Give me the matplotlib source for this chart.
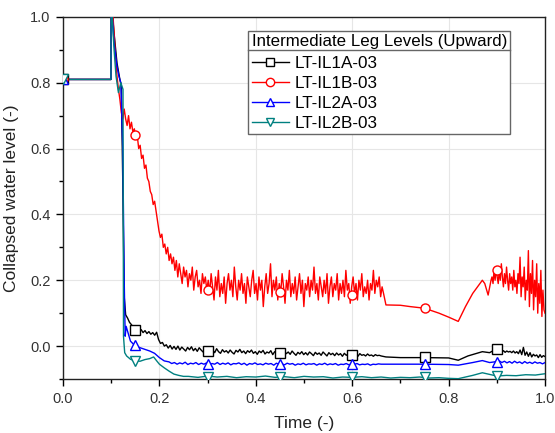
import numpy as np
import matplotlib
matplotlib.use("Agg")
import matplotlib.pyplot as plt
from matplotlib.lines import Line2D
from matplotlib.ticker import MultipleLocator, FormatStrFormatter

plt.rcParams['font.family'] = ['Liberation Sans', 'DejaVu Sans']

# ---------------- data ----------------
series_names = ["LT-IL1A-03", "LT-IL1B-03", "LT-IL2A-03", "LT-IL2B-03"]
legend_title = "Intermediate Leg Levels (Upward)"

t_init = [0.0, 0.05, 0.0995]
v_init = [0.81, 0.81, 0.81]

# --- black: LT-IL1A-03
black_drop_t = [0.1, 0.106, 0.112, 0.118, 0.121, 0.124, 0.127]
black_drop_v = [1.05, 0.95, 0.86, 0.81, 0.79, 0.50, 0.15]
black_noise_span = (0.13, 0.66)
black_noise_v = [0.095, 0.085, 0.072, 0.065, 0.056, 0.050,
                 0.053, 0.044, 0.050, 0.041, 0.047, 0.038, 0.044, 0.036, 0.041, 0.033, 0.042,
                 0.020, 0.008, 0.011, 0.000,
                 0.004, -0.006, 0.002, -0.009, -0.001, -0.010, 0.000, -0.012, -0.003, -0.009,
                 -0.015, -0.004, -0.011, -0.002, -0.014, -0.007, -0.016, -0.005, -0.012, -0.018,
                 -0.008, -0.013,
                 -0.010, -0.019, -0.012, -0.020, -0.008, -0.017, -0.022, -0.011, -0.018, -0.014,
                 -0.021, -0.012, -0.019, -0.024, -0.013, -0.018, -0.010, -0.020, -0.015, -0.023,
                 -0.014, -0.019, -0.012, -0.022, -0.017, -0.025, -0.015, -0.020, -0.013, -0.024,
                 -0.018, -0.021, -0.014, -0.026, -0.017, -0.022, -0.015, -0.020, -0.027, -0.016,
                 -0.023, -0.018, -0.025, -0.015, -0.022, -0.028, -0.019, -0.024, -0.017, -0.026,
                 -0.020, -0.027, -0.018, -0.023, -0.029, -0.019, -0.025, -0.021, -0.028, -0.018,
                 -0.024, -0.030, -0.020, -0.026, -0.022, -0.029, -0.021, -0.027, -0.023, -0.031,
                 -0.022, -0.028, -0.024, -0.030, -0.021, -0.027, -0.025, -0.031, -0.023, -0.028,
                 -0.026, -0.030, -0.024, -0.029, -0.027, -0.031, -0.026, -0.029, -0.028, -0.030]
black_late_t = [0.67, 0.70, 0.75, 0.80, 0.82, 0.84, 0.87, 0.885, 0.895]
black_late_v = [-0.033, -0.035, -0.035, -0.036, -0.043, -0.030, -0.017, -0.020, -0.012]
black_end_span = (0.90, 1.0)
black_end_v = [-0.012, -0.017, -0.013, -0.018, -0.014, -0.019, -0.015, -0.018, -0.016, -0.020,
               -0.015, -0.021, -0.017, -0.023, -0.012, -0.026, -0.004, -0.028, -0.018, -0.031,
               -0.020, -0.033, -0.025, -0.030, -0.027, -0.035, -0.026, -0.034, -0.029, -0.032]

# --- red: LT-IL1B-03
red_drop_t = [0.1, 0.103, 0.106, 0.109, 0.112, 0.115, 0.118, 0.121, 0.124, 0.127]
red_drop_v = [1.05, 1.02, 0.95, 0.88, 0.82, 0.78, 0.75, 0.71, 0.69, 0.72]
red_noise_span = (0.13, 0.665)
red_noise_v = [0.69, 0.67, 0.70, 0.66, 0.68, 0.65, 0.66,
               0.63, 0.64, 0.60, 0.61, 0.57, 0.58, 0.54, 0.55, 0.51, 0.50, 0.47, 0.46, 0.43, 0.44, 0.41,
               0.38, 0.35, 0.33, 0.34, 0.30, 0.31, 0.28, 0.30, 0.26, 0.28, 0.25, 0.27,
               0.23, 0.26, 0.21, 0.25, 0.22, 0.19, 0.24, 0.21, 0.23, 0.18, 0.22, 0.20, 0.24, 0.17,
               0.21, 0.23, 0.18, 0.20, 0.16, 0.22, 0.19, 0.21, 0.17,
               0.20, 0.16, 0.22, 0.18, 0.14, 0.21, 0.17, 0.23, 0.15, 0.19,
               0.16, 0.21, 0.13, 0.19, 0.22, 0.17, 0.20, 0.15, 0.24, 0.18,
               0.14, 0.20, 0.17, 0.22, 0.16, 0.19, 0.13, 0.21, 0.18, 0.15,
               0.20, 0.23, 0.16, 0.19, 0.14, 0.21, 0.17, 0.20, 0.12, 0.18,
               0.22, 0.16, 0.19, 0.25, 0.15, 0.20, 0.17, 0.21, 0.14, 0.19,
               0.16, 0.22, 0.18, 0.13, 0.20, 0.17, 0.23, 0.15, 0.19, 0.16,
               0.21, 0.14, 0.18, 0.22, 0.16, 0.20, 0.12, 0.19, 0.17, 0.21,
               0.15, 0.20, 0.17, 0.24, 0.16, 0.19, 0.14, 0.21, 0.18, 0.15,
               0.20, 0.16, 0.22, 0.13, 0.18, 0.21, 0.15, 0.19, 0.17, 0.22,
               0.14, 0.19, 0.16, 0.20, 0.15, 0.23, 0.17, 0.19, 0.13, 0.18,
               0.21, 0.16, 0.19, 0.14, 0.20, 0.17, 0.22, 0.15, 0.18, 0.16,
               0.20, 0.14, 0.19, 0.17, 0.23, 0.16, 0.20, 0.18, 0.21, 0.15,
               0.18, 0.16]
red_late_t = [0.67, 0.70, 0.72, 0.75, 0.78, 0.80, 0.82, 0.835, 0.85, 0.87, 0.875, 0.882, 0.888]
red_late_v = [0.125, 0.124, 0.12, 0.115, 0.10, 0.088, 0.075, 0.12, 0.16, 0.20, 0.19, 0.155, 0.20]
red_end_span = (0.89, 1.0)
red_end_v = [0.21, 0.19, 0.23, 0.20, 0.24, 0.21, 0.19, 0.23, 0.20, 0.25,
             0.21, 0.18, 0.22, 0.19, 0.24, 0.20, 0.17, 0.22, 0.19, 0.21,
             0.17, 0.23, 0.18, 0.20, 0.16, 0.22, 0.19, 0.27, 0.15, 0.21,
             0.18, 0.24, 0.14, 0.20, 0.17, 0.29, 0.12, 0.22, 0.16, 0.26,
             0.11, 0.20, 0.15, 0.25, 0.10, 0.19, 0.13, 0.23, 0.09, 0.17,
             0.11, 0.10]

# --- blue: LT-IL2A-03
blue_drop_t = [0.1, 0.106, 0.112, 0.116, 0.12, 0.124, 0.127, 0.129, 0.131, 0.135,
               0.14, 0.15, 0.16, 0.17, 0.18, 0.19, 0.20, 0.21]
blue_drop_v = [1.05, 0.92, 0.85, 0.82, 0.80, 0.60, 0.20, 0.03, 0.06, 0.04,
               0.015, 0.0, -0.005, -0.010, -0.015, -0.022, -0.035, -0.045]
blue_noise_span = (0.22, 0.66)
blue_noise_v = [-0.048, -0.053, -0.050, -0.055, -0.051, -0.054, -0.049, -0.056, -0.052, -0.054,
                -0.050, -0.056, -0.052, -0.055, -0.051, -0.057, -0.053, -0.055, -0.050, -0.056,
                -0.052, -0.055, -0.051, -0.057, -0.053, -0.054, -0.051, -0.056, -0.052, -0.058,
                -0.053, -0.055, -0.051, -0.056, -0.054, -0.057, -0.052, -0.055, -0.053, -0.058,
                -0.052, -0.056, -0.054, -0.057, -0.052, -0.055, -0.053, -0.058, -0.054, -0.056,
                -0.052, -0.057, -0.054, -0.055, -0.053, -0.058, -0.054, -0.056, -0.052, -0.057,
                -0.054, -0.056, -0.053, -0.058, -0.055, -0.056, -0.053, -0.057, -0.054, -0.056,
                -0.053, -0.057, -0.055, -0.056, -0.054, -0.058, -0.055, -0.056, -0.054, -0.055]
blue_late_t = [0.67, 0.75, 0.80, 0.82, 0.85, 0.87, 0.885]
blue_late_v = [-0.055, -0.055, -0.056, -0.058, -0.050, -0.044, -0.050]
blue_end_span = (0.90, 1.0)
blue_end_v = [-0.047, -0.045, -0.050, -0.046, -0.051, -0.047, -0.052, -0.046, -0.051, -0.048,
              -0.053, -0.047, -0.052, -0.049, -0.053, -0.048, -0.052, -0.050, -0.054, -0.050]

# --- teal: LT-IL2B-03
teal_drop_t = [0.1, 0.106, 0.11, 0.115, 0.12, 0.1245, 0.1255, 0.128, 0.132, 0.14,
               0.15, 0.16, 0.17, 0.18, 0.188, 0.195, 0.20, 0.21, 0.22, 0.23, 0.24, 0.25]
teal_drop_v = [1.05, 0.90, 0.82, 0.77, 0.80, 0.78, 0.03, -0.02, -0.03, -0.040,
               -0.045, -0.046, -0.041, -0.038, -0.033, -0.046, -0.055, -0.066, -0.076, -0.085,
               -0.089, -0.092]
teal_noise_span = (0.26, 0.80)
teal_noise_v = [-0.092, -0.095, -0.091, -0.094, -0.092, -0.096, -0.093, -0.094, -0.091, -0.095,
                -0.093, -0.096, -0.092, -0.094, -0.093, -0.097, -0.094, -0.095, -0.093, -0.096,
                -0.094, -0.097, -0.095, -0.096, -0.094, -0.097, -0.096, -0.098]
teal_late_t = [0.82, 0.85, 0.87, 0.885, 0.90, 0.92, 0.94, 0.96, 0.98, 1.0]
teal_late_v = [-0.099, -0.089, -0.081, -0.086, -0.091, -0.089, -0.090, -0.087, -0.088, -0.084]

# markers
marker_t = [0.0, 0.15, 0.30, 0.45, 0.60, 0.75, 0.90]
black_mk = [0.81, 0.048, -0.015, -0.022, -0.027, -0.033, -0.010]
red_mk = [0.81, 0.64, 0.17, 0.165, 0.155, 0.115, 0.23]
blue_mk = [0.81, 0.003, -0.055, -0.055, -0.055, -0.055, -0.048]
teal_mk = [0.81, -0.045, -0.093, -0.093, -0.094, -0.094, -0.092]

colors = ["#000000", "#FF0000", "#0000FF", "#008080"]
markers = ["s", "o", "^", "v"]


def build(parts):
    ts, vs = [], []
    for p in parts:
        if p[0] == "list":
            ts += list(p[1]); vs += list(p[2])
        else:
            span, vals = p[1], p[2]
            ts += list(np.linspace(span[0], span[1], len(vals))); vs += list(vals)
    return np.array(ts), np.array(vs)


black = build([("list", t_init, v_init), ("list", black_drop_t, black_drop_v),
               ("span", black_noise_span, black_noise_v), ("list", black_late_t, black_late_v),
               ("span", black_end_span, black_end_v)])
red = build([("list", t_init, v_init), ("list", red_drop_t, red_drop_v),
             ("span", red_noise_span, red_noise_v), ("list", red_late_t, red_late_v),
             ("span", red_end_span, red_end_v)])
blue = build([("list", t_init, v_init), ("list", blue_drop_t, blue_drop_v),
              ("span", blue_noise_span, blue_noise_v), ("list", blue_late_t, blue_late_v),
              ("span", blue_end_span, blue_end_v)])
teal = build([("list", t_init, v_init), ("list", teal_drop_t, teal_drop_v),
              ("span", teal_noise_span, teal_noise_v), ("list", teal_late_t, teal_late_v)])

all_series = [black, red, blue, teal]
all_markers = [black_mk, red_mk, blue_mk, teal_mk]

# ---------------- plot ----------------
fig = plt.figure(figsize=(5.55, 4.33), dpi=100)
ax = fig.add_axes([0.1135, 0.1247, 0.8685, 0.8363])

handles = []
for (t, v), mk, c, m, name in zip(all_series, all_markers, colors, markers, series_names):
    ax.plot(t, v, color=c, lw=1.0, zorder=3)
    ax.plot(marker_t, mk, ls='none', marker=m, ms=6.5, mfc='white', mec=c, mew=1.0, zorder=4)
    handles.append(Line2D([], [], color=c, lw=1.0, marker=m, ms=6, mfc='white', mec=c, mew=1.0))

ax.set_xlim(0, 1.0)
ax.set_ylim(-0.1, 1.0)
ax.xaxis.set_major_locator(MultipleLocator(0.2))
ax.xaxis.set_minor_locator(MultipleLocator(0.1))
ax.set_yticks([0.0, 0.2, 0.4, 0.6, 0.8, 1.0])
ax.yaxis.set_minor_locator(MultipleLocator(0.1))
ax.xaxis.set_major_formatter(FormatStrFormatter('%.1f'))
ax.yaxis.set_major_formatter(FormatStrFormatter('%.1f'))
ax.tick_params(which='major', direction='out', length=5, width=1, labelsize=10.5,
               colors='#000', labelcolor='#333', pad=4)
ax.tick_params(which='minor', direction='out', length=3, width=1)
ax.tick_params(top=False, right=False, which='both')
ax.grid(True, which='major', color='#e6e6e6', lw=0.8)
ax.set_axisbelow(True)
for s in ax.spines.values():
    s.set_linewidth(1.0)
    s.set_color('#222')

ax.set_xlabel("Time (-)", fontsize=12.5, color='#222')
ax.set_ylabel("Collapsed water level (-)", fontsize=12.5, color='#222')
ax.xaxis.set_label_coords(0.5, -0.103)
ax.yaxis.set_label_coords(-0.092, 0.5)

leg = ax.legend(handles, series_names, title=legend_title, loc='upper left',
                bbox_to_anchor=(0.384, 0.961), fontsize=12.3, title_fontsize=12.2,
                frameon=True, fancybox=False, framealpha=1, edgecolor='#666',
                handlelength=2.2, handletextpad=0.35, labelspacing=0.28,
                borderpad=0.2, borderaxespad=0)
leg.get_frame().set_linewidth(1.0)
leg._legend_box.align = "left"
leg._legend_box.sep = 5

fig.canvas.draw()
lbb = leg.get_window_extent()
tbb = leg.get_title().get_window_extent()
yline = tbb.y0 - 1.0
inv = fig.transFigure.inverted()
(x0, y0) = inv.transform((lbb.x0, yline))
(x1, _) = inv.transform((lbb.x1, yline))
fig.add_artist(Line2D([x0, x1], [y0, y0], transform=fig.transFigure, color='#666', lw=1.0, zorder=10))

fig.savefig("out.png", dpi=100)
